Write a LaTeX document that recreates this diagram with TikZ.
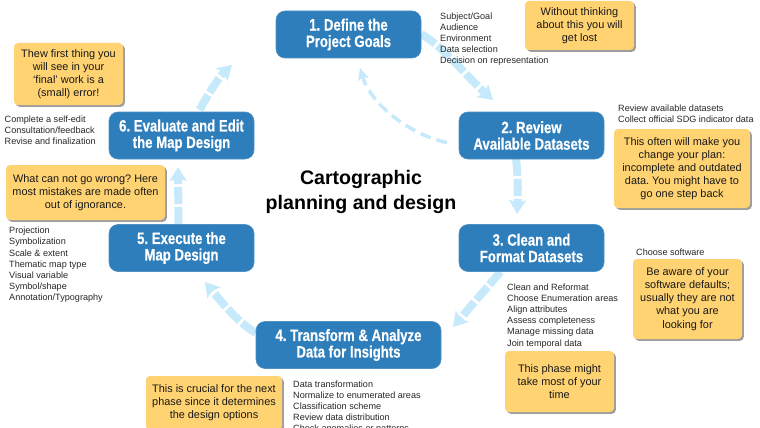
\documentclass[tikz,border=0pt]{standalone}
\usepackage{fontspec}
\setmainfont{Liberation Sans}
\newfontfamily\condbold[FakeStretch=0.8,FakeBold=0.4]{Liberation Sans Bold}
\usetikzlibrary{arrows.meta,shadows,backgrounds}
\definecolor{stepblue}{HTML}{2E7EBB}
\definecolor{notefill}{HTML}{FFD272}
\definecolor{flowblue}{HTML}{C6E9FB}
\frenchspacing
\tikzset{
  stepbox/.style={draw=stepblue!85!white,line width=0.6pt,fill=stepblue,rounded corners=9pt,minimum width=145pt,minimum height=47pt,inner sep=0pt,align=center,text=white,font=\condbold\fontsize{16.5}{16.5}\selectfont},
  notebox/.style={fill=notefill,rounded corners=4pt,inner sep=0pt,align=center,text=black!90,font=\fontsize{10.9}{13.1}\selectfont,drop shadow={shadow xshift=1.8pt,shadow yshift=-1.8pt,fill=black!55,opacity=0.7}},
  listtext/.style={inner sep=0pt,anchor=north west,align=left,text=black!85,font=\fontsize{9.1}{11.15}\selectfont},
  flow/.style={draw=flowblue,line width=8pt,dash pattern=on 17pt off 3pt,-{Stealth[length=14pt,width=17pt,inset=3pt,fill=flowblue]}},
  flowback/.style={draw=flowblue,line width=3.5pt,dash pattern=on 11pt off 6pt,shorten <=12pt,-{Stealth[length=12pt,width=11pt,inset=3pt,fill=flowblue]}},
  titletext/.style={inner sep=0pt,align=center,font=\bfseries\fontsize{19.6}{25}\selectfont}
}
\begin{document}
\begin{tikzpicture}[x=1pt,y=-1pt]
\useasboundingbox (0,0) rectangle (760,428);
\clip (0,0) rectangle (760,428);
% steps
\node[stepbox] (s1) at (348.5,34.5) {1. Define the\\Project Goals};
\node[stepbox] (s2) at (531.5,135.5) {2. Review\\Available Datasets};
\node[stepbox] (s3) at (531.5,248) {3. Clean and\\Format Datasets};
\node[stepbox,minimum width=185pt] (s4) at (348.5,345) {4. Transform \& Analyze\\Data for Insights};
\node[stepbox] (s5) at (181.5,248) {5. Execute the\\Map Design};
\node[stepbox] (s6) at (181.5,135.5) {6. Evaluate and Edit\\the Map Design};
% title
\node[titletext] (title) at (361,192) {Cartographic\\planning and design};
% notes
\node[notebox,minimum width=109pt,minimum height=62pt] (n1) at (68.5,74) {Thew first thing you\\will see in your\\‘final’ work is a\\(small) error!};
\node[notebox,minimum width=159pt,minimum height=55pt] (n2) at (85.5,192.5) {What can not go wrong? Here\\most mistakes are made often\\out of ignorance.};
\node[notebox,minimum width=109pt,minimum height=49pt] (n3) at (579.5,25.5) {Without thinking\\about this you will\\get lost};
\node[notebox,minimum width=136pt,minimum height=79pt] (n4) at (682,168.5) {This often will make you\\change your plan:\\incomplete and outdated\\data. You might have to\\go one step back};
\node[notebox,minimum width=109pt,minimum height=80pt] (n5) at (687.5,299) {Be aware of your\\software defaults;\\usually they are not\\what you are\\looking for};
\node[notebox,minimum width=109pt,minimum height=61pt] (n6) at (559.5,381.5) {This phase might\\take most of your\\time};
\node[notebox,minimum width=136pt,minimum height=54pt] (n7) at (214,403) {This is crucial for the next\\phase since it determines\\the design options};
% lists
\node[listtext] (l1) at (440,12.5) {Subject/Goal\\Audience\\Environment\\Data selection\\Decision on representation};
\node[listtext] (l2) at (618,104.5) {Review available datasets\\Collect official SDG indicator data};
\node[listtext] (l3) at (636,248.5) {Choose software};
\node[listtext] (l4) at (507,283.5) {Clean and Reformat\\Choose Enumeration areas\\Align attributes\\Assess completeness\\Manage missing data\\Join temporal data};
\node[listtext] (l5) at (293,380.5) {Data transformation\\Normalize to enumerated areas\\Classification scheme\\Review data distribution\\Check anomalies or patterns};
\node[listtext] (l6) at (9,227) {Projection\\Symbolization\\Scale \& extent\\Thematic map type\\Visual variable\\Symbol/shape\\Annotation/Typography};
\node[listtext] (l7) at (4.5,115.5) {Complete a self-edit\\Consultation/feedback\\Revise and finalization};
% connector ends
\coordinate (t2) at (493,100);
\coordinate (t3) at (517,214);
\coordinate (t4) at (453,327);
\coordinate (t5) at (205,282);
\coordinate (t6) at (178,167);
\coordinate (t1) at (232,65);
\coordinate (tb) at (360,68);
\begin{scope}[on background layer]
\draw[flow] (s1.east |- 0,34) .. controls (445,48) and (468,78) .. (t2);
\draw[flow] (516,159) .. controls (518,175) and (518,190) .. (t3);
\draw[flow] (s3.south) ++(-31,0) -- (t4);
\draw[flow] (s4.west |- 0,333) .. controls (235,320) and (220,300) .. (t5);
\draw[flow] (s5.north) ++(-3,0) -- (t6);
\draw[flow] (s6.north) ++(18,-2) .. controls (208,95) and (218,78) .. (t1);
\draw[flowback] (s2.west |- 0,145) .. controls (415,136) and (372,108) .. (tb);
\end{scope}
\end{tikzpicture}
\end{document}
